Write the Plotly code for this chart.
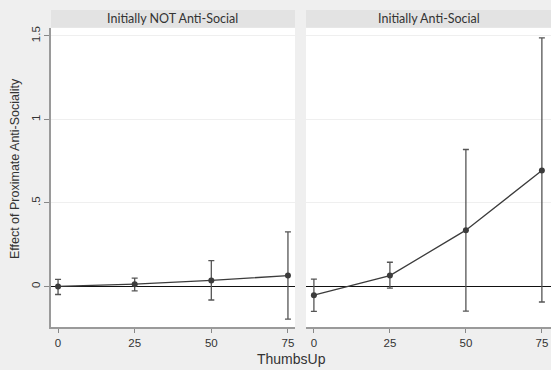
import plotly.graph_objects as go
from plotly.subplots import make_subplots

panels = ["Initially NOT Anti-Social", "Initially Anti-Social"]
thumbs = [0, 25, 50, 75]
est_not = [0.0, 0.014, 0.036, 0.065]
lo_not = [-0.048, -0.026, -0.081, -0.195]
hi_not = [0.042, 0.05, 0.155, 0.327]
est_anti = [-0.052, 0.065, 0.337, 0.694]
lo_anti = [-0.149, -0.01, -0.147, -0.093]
hi_anti = [0.044, 0.145, 0.82, 1.488]
ytick_vals = [0, 0.5, 1, 1.5]
ytick_text = ["0", ".5", "1", "1.5"]

W, H = 551, 370
def px(x): return x / W
def py(y): return 1 - y / H

fig = make_subplots(rows=1, cols=2)
series = [(est_not, lo_not, hi_not), (est_anti, lo_anti, hi_anti)]
for i, (e, lo, hi) in enumerate(series):
    fig.add_trace(go.Scatter(
        x=thumbs, y=e, mode="lines+markers",
        line=dict(color="#3c3c3c", width=1.3),
        marker=dict(color="#3c3c3c", size=6),
        error_y=dict(type="data", symmetric=False,
                     array=[h - v for h, v in zip(hi, e)],
                     arrayminus=[v - l for v, l in zip(e, lo)],
                     color="#555555", thickness=1.3, width=3),
        showlegend=False, cliponaxis=False), row=1, col=i + 1)

ytop, ybot = 26, 327
yrange = [-0.244, 1.548]
xdoms = [(51, 295), (306, 553)]
xranges = [[-2.3, 77.3], [-2.6, 78.0]]
for i in range(2):
    xa = "xaxis" if i == 0 else "xaxis2"
    ya = "yaxis" if i == 0 else "yaxis2"
    fig.layout[xa].update(
        domain=[px(xdoms[i][0]), min(1.0, px(xdoms[i][1]))], range=xranges[i],
        tickvals=thumbs, ticks="outside", ticklen=4, tickcolor="#888888",
        ticklabelstandoff=0,
        showline=True, linecolor="#9a9a9a", linewidth=1.5, showgrid=False,
        zeroline=False, tickfont=dict(family="Liberation Sans", size=11.5, color="#333333"))
    fig.layout[ya].update(
        domain=[py(ybot), py(ytop)], range=yrange,
        tickvals=ytick_vals, ticktext=ytick_text,
        showticklabels=(i == 0), ticks="outside" if i == 0 else "",
        ticklen=5, tickcolor="#888888", tickangle=-90,
        showline=(i == 0), linecolor="#9a9a9a", linewidth=1.5,
        showgrid=True, gridcolor="#efefef", gridwidth=1,
        zeroline=True, zerolinecolor="#111111", zerolinewidth=1.2,
        tickfont=dict(family="Liberation Sans", size=11.5, color="#333333"))

for i, name in enumerate(panels):
    x0, x1 = xdoms[i]
    fig.add_shape(type="rect", xref="paper", yref="paper",
                  x0=px(x0), x1=min(1.0, px(x1)), y0=py(ytop), y1=py(8),
                  fillcolor="#e3e3e3", line=dict(width=0), layer="below")
    fig.add_annotation(xref="paper", yref="paper", x=px((x0 + min(x1, 551)) / 2), y=py(17),
                       text=name, showarrow=False, xanchor="center", yanchor="middle",
                       font=dict(family="Lato", size=12.5, color="#333333"))

fig.add_annotation(xref="paper", yref="paper", x=px(291), y=py(359),
                   text="ThumbsUp", showarrow=False, xanchor="center", yanchor="middle",
                   font=dict(family="Liberation Sans", size=14, color="#333333"))
fig.add_annotation(xref="paper", yref="paper", x=px(15), y=py(168),
                   text="Effect of Proximate Anti-Sociality", showarrow=False, textangle=-90,
                   xanchor="center", yanchor="middle",
                   font=dict(family="Liberation Sans", size=12.5, color="#333333"))

fig.update_layout(width=W, height=H, margin=dict(l=0, r=0, t=0, b=0),
                  paper_bgcolor="#efefef", plot_bgcolor="#ffffff")
fig.write_html("out.html", config={"displayModeBar": False},
               post_script="document.body.style.margin='0';document.body.style.background='#efefef';document.body.style.overflow='hidden';")
